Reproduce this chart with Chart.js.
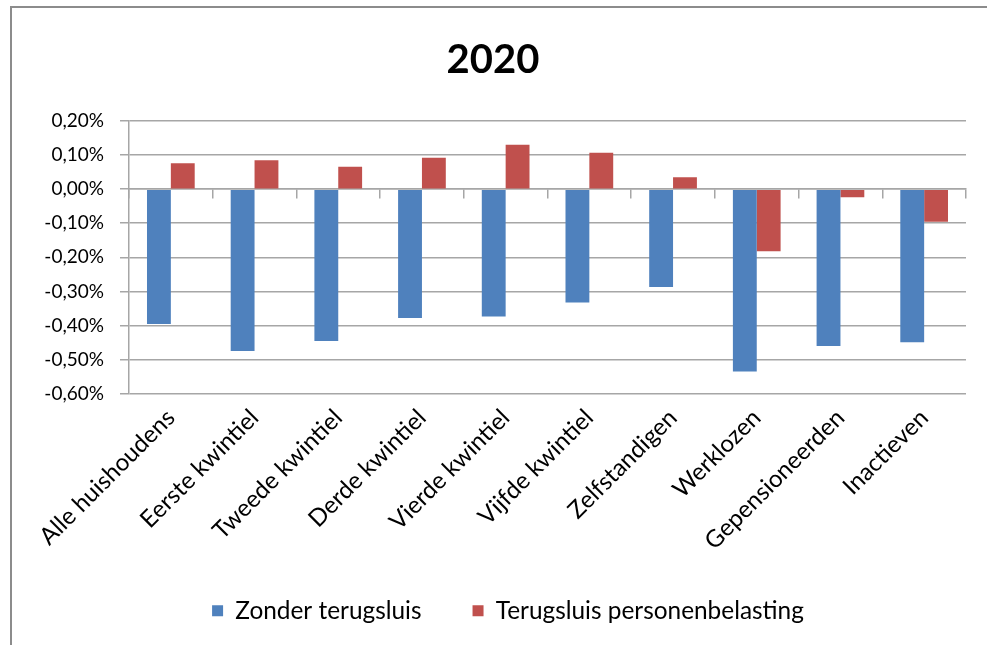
<!DOCTYPE html>
<html>
<head>
<meta charset="utf-8">
<script src="https://cdn.jsdelivr.net/npm/chart.js@4.4.1/dist/chart.umd.min.js"></script>
<style>
  html, body { margin: 0; padding: 0; background: #fff; overflow: hidden; }
  #wrap { position: relative; width: 987px; height: 645px; }
  #frame { position: absolute; left: 10px; top: 6px; width: 990px; height: 650px;
           border-left: 2px solid #8c8c8c; border-top: 2px solid #8c8c8c; }
  canvas { position: absolute; left: 0; top: 0; }
</style>
</head>
<body>
<div id="wrap">
  <div id="frame"></div>
  <canvas id="c" width="987" height="645"></canvas>
</div>
<script>
// Groups of households
const categories = [
  'Alle huishoudens', 'Eerste kwintiel', 'Tweede kwintiel', 'Derde kwintiel',
  'Vierde kwintiel', 'Vijfde kwintiel', 'Zelfstandigen', 'Werklozen',
  'Gepensioneerden', 'Inactieven'
];

// Change in purchasing power, in percent
const zonderTerugsluis = [-0.396, -0.475, -0.446, -0.378, -0.374, -0.333, -0.287, -0.535, -0.460, -0.449];
const terugsluisPersonenbelasting = [0.076, 0.085, 0.066, 0.092, 0.130, 0.107, 0.035, -0.182, -0.024, -0.096];

const seriesNames = ['Zonder terugsluis', 'Terugsluis personenbelasting'];
const chartTitle = '2020';

// Value axis range and step
const yMin = -0.6, yMax = 0.2, yStep = 0.1;

const FONT = 'Lato';
const GRID = '#a6a6a6';

function pct(v) {
  const r = Math.round(v * 100) / 100;
  return (Math.abs(r) < 1e-9 ? 0 : r).toFixed(2).replace('.', ',') + '%';
}

// Nudge the legend a little to the right of the canvas centre
const legendShift = {
  id: 'legendShift',
  afterLayout(chart) {
    const lg = chart.legend;
    if (lg) { lg.left += 15; lg.right += 15; }
  }
};

new Chart(document.getElementById('c'), {
  type: 'bar',
  data: {
    labels: categories,
    datasets: [
      { label: seriesNames[0], data: zonderTerugsluis, backgroundColor: '#4f81bd' },
      { label: seriesNames[1], data: terugsluisPersonenbelasting, backgroundColor: '#c0504d' }
    ]
  },
  plugins: [legendShift],
  options: {
    responsive: false,
    devicePixelRatio: 1,
    animation: false,
    layout: { padding: { left: 20, right: 21, top: 0, bottom: 12 } },
    datasets: { bar: { categoryPercentage: 0.57, barPercentage: 1.0 } },
    plugins: {
      title: {
        display: true,
        text: chartTitle,
        color: '#000',
        font: { family: FONT, size: 40, weight: 'bold' },
        padding: { top: 36, bottom: 37 }
      },
      legend: {
        position: 'bottom',
        labels: {
          color: '#000',
          font: { family: FONT, size: 24.4 },
          boxWidth: 11, boxHeight: 11,
          padding: 51
        }
      },
      tooltip: { enabled: false }
    },
    scales: {
      x: {
        grid: { display: false, drawTicks: false },
        border: { display: false },
        ticks: {
          color: '#000',
          font: { family: FONT, size: 24 },
          minRotation: 45, maxRotation: 45,
          padding: 10,
          autoSkip: false
        },
        afterFit: s => { s.height = 154; }
      },
      // Category axis line drawn along the zero level, with tick marks between groups
      xZero: {
        type: 'category',
        position: { y: 0 },
        grid: { offset: true, drawOnChartArea: false, drawTicks: true, tickLength: 9, color: GRID, lineWidth: 1.5 },
        border: { display: true, color: GRID, width: 1.5 },
        ticks: { display: false }
      },
      y: {
        min: yMin, max: yMax,
        ticks: {
          stepSize: yStep,
          color: '#000',
          font: { family: FONT, size: 19 },
          padding: 16,
          callback: v => pct(v)
        },
        grid: { color: GRID, lineWidth: 1.5, drawTicks: true, tickLength: 9, tickColor: GRID },
        border: { display: true, color: GRID, width: 1.5 },
        afterFit: s => { s.width = 109; }
      }
    }
  }
});
</script>
</body>
</html>
